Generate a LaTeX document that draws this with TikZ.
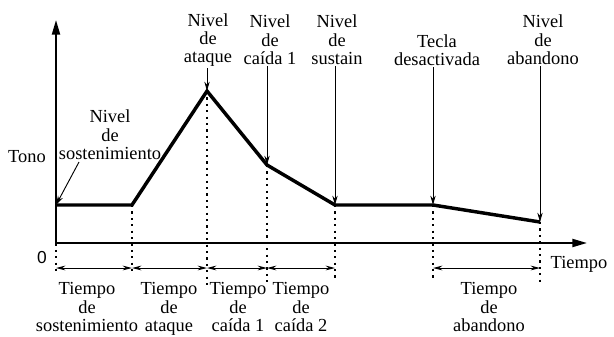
\documentclass[tikz,border=0pt]{standalone}
\usepackage{fontspec}
\setmainfont{Liberation Serif}
\newfontfamily\axisfont{Liberation Sans}
\usetikzlibrary{positioning, arrows.meta}

\begin{document}
\begin{tikzpicture}[x=0.75pt, y=-0.75pt,
    lbl/.style={align=center, inner sep=1pt, font=\fontsize{13.8}{13.8}\selectfont},
    axis/.style={line width=1.5pt, -{Triangle[length=11pt, width=6pt]}},
    env/.style={line width=2.6pt, line join=miter},
    marker/.style={line width=0.7pt, -{Stealth[length=7pt, width=4pt]}},
    span/.style={line width=0.7pt, {Stealth[length=7pt, width=3.5pt]}-{Stealth[length=7pt, width=3.5pt]}},
    guide/.style={line width=1.6pt, dash pattern=on 1.6pt off 3.2pt}]
  \useasboundingbox (0,0) rectangle (614,336);

  % envelope points
  \coordinate (p0) at (56,205);
  \coordinate (p1) at (132,205);
  \coordinate (p2) at (207,91);
  \coordinate (p3) at (267,165);
  \coordinate (p4) at (335,205);
  \coordinate (p5) at (433,205);
  \coordinate (p6) at (540,222);
  \coordinate (orig) at (56,243);
  \coordinate (ytop) at (56,20);
  \coordinate (xend) at (587,243);

  % dotted guides
  \draw[guide] (p0) -- (56,273);
  \draw[guide] (p1) -- (132,273);
  \draw[guide] (p2) -- (207,287);
  \draw[guide] (p3) -- (267,283);
  \draw[guide] (p4) -- (335,281);
  \draw[guide] (p5) -- (433,281);
  \draw[guide] (p6) -- (540,283);

  \draw[axis] (orig) -- (ytop);
  \draw[axis] (orig) -- (xend);
  \draw[env] (p0) -- (p1) -- (p2) -- (p3) -- (p4) -- (p5) -- (p6);

  \node[lbl] (tono) at (27,157) {Tono};
  \node[font=\axisfont\fontsize{13}{13}\selectfont] (cero) at (42,258) {0};
  \node[lbl] (tiempo) at (579,264) {Tiempo};

  % level labels
  \node[lbl] (nsost) at (110,135) {Nivel\\de\\sostenimiento};
  \node[lbl] (natq) at (208,40) {Nivel\\de\\ataque};
  \node[lbl] (ncai) at (270,40) {Nivel\\de\\caída 1};
  \node[lbl] (nsus) at (337,40) {Nivel\\de\\sustain};
  \node[lbl] (tecla) at (437,50) {Tecla\\desactivada};
  \node[lbl] (naba) at (543,40) {Nivel\\de\\abandono};
  \draw[marker] (79,162) -- (p0);
  \draw[marker] (natq.south -| p2) -- (p2);
  \draw[marker] (ncai.south -| p3) -- (p3);
  \draw[marker] (nsus.south -| p4) -- (p4);
  \draw[marker] (tecla.south -| p5) -- (p5);
  \draw[marker] (naba.south -| p6) -- (p6);

  % time spans
  \coordinate (t0) at (56,268);
  \coordinate (t1) at (132,268);
  \coordinate (t2) at (207,268);
  \coordinate (t3) at (267,268);
  \coordinate (t4) at (335,268);
  \coordinate (t5) at (433,268);
  \coordinate (t6) at (540,268);
  \draw[span] (t0) -- (t1);
  \draw[span] (t1) -- (t2);
  \draw[span] (t2) -- (t3);
  \draw[span] (t3) -- (t4);
  \draw[span] (t5) -- (t6);

  \node[lbl, anchor=north] (tsost) at (87,281) {Tiempo\\de\\sostenimiento};
  \node[lbl, anchor=north] (tatq) at (169,281) {Tiempo\\de\\ataque};
  \node[lbl, anchor=north] (tcai1) at (238,281) {Tiempo\\de\\caída 1};
  \node[lbl, anchor=north] (tcai2) at (301,281) {Tiempo\\de\\caída 2};
  \node[lbl, anchor=north] (taba) at (489,281) {Tiempo\\de\\abandono};
\end{tikzpicture}
\end{document}
